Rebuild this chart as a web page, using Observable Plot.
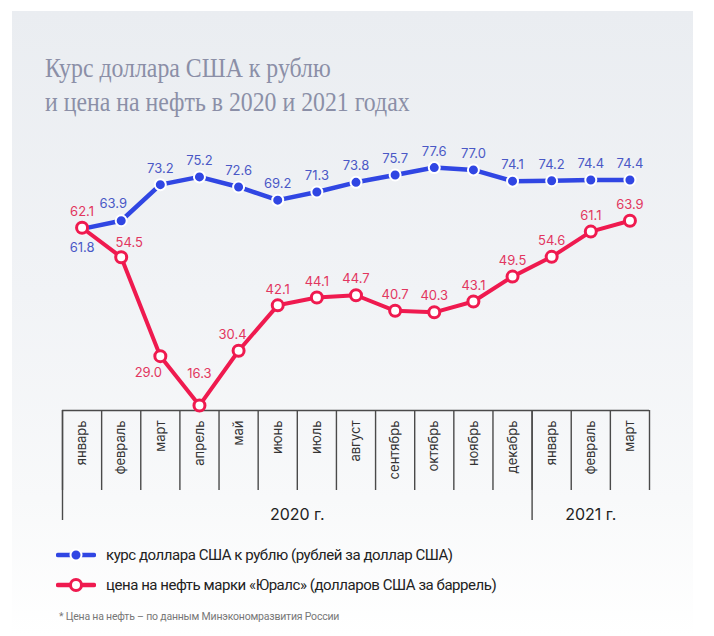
<!DOCTYPE html>
<html><head><meta charset="utf-8">
<script src="https://cdn.jsdelivr.net/npm/d3@7"></script>
<script src="https://cdn.jsdelivr.net/npm/@observablehq/plot@0.6"></script>
<style>
html,body{margin:0;padding:0;background:#fff;}
body{width:714px;height:636px;position:relative;overflow:hidden;font-family:Inter,"Noto Sans",sans-serif;}
#panel{position:absolute;left:12px;top:11px;width:681px;height:625px;background:linear-gradient(#eaedf1 0%,#f1f3f6 45%,#f8f9fa 78%,#ffffff 100%);}
#title{position:absolute;left:45px;top:51px;font-family:"Liberation Serif",serif;font-size:28px;line-height:34px;color:#8b8fa7;transform:scaleX(0.85);transform-origin:0 0;white-space:nowrap;}
#chart{position:absolute;left:0;top:140px;}
.leg{position:absolute;left:56px;display:flex;align-items:center;font-family:Roboto,sans-serif;font-size:15px;letter-spacing:-0.45px;color:#222;}
.leg svg{margin-right:10px;}
#note{position:absolute;left:59px;top:610px;font-family:Roboto,sans-serif;font-size:10.5px;letter-spacing:-0.2px;color:#777;}
</style></head>
<body>
<div id="panel"></div>
<div id="title">Курс доллара США к рублю<br>и цена на нефть в 2020 и 2021 годах</div>
<div id="chart"></div>
<div class="leg" id="leg1" style="top:546px"></div>
<div class="leg" id="leg2" style="top:576px"></div>
<div id="note">* Цена на нефть – по данным Минэкономразвития России</div>
<script>
const months = ["январь","февраль","март","апрель","май","июнь","июль","август","сентябрь","октябрь","ноябрь","декабрь","январь","февраль","март"];
const usdRub = [61.8,63.9,73.2,75.2,72.6,69.2,71.3,73.8,75.7,77.6,77.0,74.1,74.2,74.4,74.4];
const urals = [62.1,54.5,29.0,16.3,30.4,42.1,44.1,44.7,40.7,40.3,43.1,49.5,54.6,61.1,63.9];
const years = ["2020 г.","2021 г."];
const monthsPerYear = [12,3];
const seriesNames = ["курс доллара США к рублю (рублей за доллар США)","цена на нефть марки «Юралс» (долларов США за баррель)"];

const BLUE = "#3046e3", BLUE_T = "#4a58c6", RED = "#ef1a4f", RED_T = "#e2365f";
const FRAME_H = 260;

const idx = d3.range(months.length);
const usd = idx.map(i => ({i, v: usdRub[i]}));
const oil = idx.map(i => ({i, v: urals[i]}));
const boundaries = d3.range(months.length + 1).map(i => i - 0.5);
let start = 0;
const yearStarts = [], yearCenters = [];
monthsPerYear.forEach(n => { yearStarts.push(start - 0.5); yearCenters.push(start + n/2 - 0.5); start += n; });

// label nudges (pixels)
const usdNudge = {0:[0,19], 1:[-8,-17]};
const oilNudge = {1:[8,-14], 2:[-12,17], 3:[0,-32], 4:[-6,-16]};
const labelMarks = (data, nudge, fill) => data.map(d => {
  const [dx, dy] = nudge[d.i] || [0, -16];
  return Plot.text([d], {x:"i", y:"v", text: d => d.v.toFixed(1), dx, dy, fill, fontSize:13});
});

const chart = Plot.plot({
  width:714, height:400, marginLeft:62, marginRight:65, marginTop:10, marginBottom:130,
  style:{background:"transparent", fontFamily:"Inter, sans-serif", fontSize:"13px", color:"#333", overflow:"visible"},
  x:{type:"linear", domain:[-0.5, months.length - 0.5], ticks:months.length, tickFormat: i => months[i] ?? "", tickRotate:-90, tickSize:0, tickPadding:10, label:null},
  y:{domain:[15, 82], axis:null},
  marks:[
    Plot.ruleX(boundaries, {x: d => d, insetTop: FRAME_H, insetBottom: -80, stroke:"#4a4a4a", strokeWidth:1.4}),
    Plot.ruleX(yearStarts, {x: d => d, insetTop: FRAME_H, insetBottom: -110, stroke:"#4a4a4a", strokeWidth:1.4}),
    Plot.ruleY([15], {stroke:"#4a4a4a", strokeWidth:1.4}),
    Plot.text(yearCenters, {x: d => d, text: (d, i) => years[i], frameAnchor:"bottom", lineAnchor:"top", dy:98, fontSize:16, fill:"#222"}),
    Plot.line(usd, {x:"i", y:"v", stroke:BLUE, strokeWidth:4.5}),
    Plot.dot(usd, {x:"i", y:"v", r:5.5, fill:BLUE, stroke:"white", strokeWidth:2}),
    Plot.line(oil, {x:"i", y:"v", stroke:RED, strokeWidth:4}),
    Plot.dot(oil, {x:"i", y:"v", r:5.5, fill:"white", stroke:RED, strokeWidth:3}),
    ...labelMarks(usd, usdNudge, BLUE_T),
    ...labelMarks(oil, oilNudge, RED_T)
  ]
});
document.getElementById("chart").appendChild(chart);

function swatch(color, filled) {
  return `<svg width="40" height="16"><line x1="2" y1="8" x2="38" y2="8" stroke="${color}" stroke-width="4.5" stroke-linecap="round"/>` +
    `<circle cx="20" cy="8" r="5.5" fill="${filled ? color : 'white'}" stroke="${filled ? 'white' : color}" stroke-width="${filled ? 2 : 3}"/></svg>`;
}
document.getElementById("leg1").innerHTML = swatch(BLUE, true) + `<span>${seriesNames[0]}</span>`;
document.getElementById("leg2").innerHTML = swatch(RED, false) + `<span>${seriesNames[1]}</span>`;
</script>
</body></html>
